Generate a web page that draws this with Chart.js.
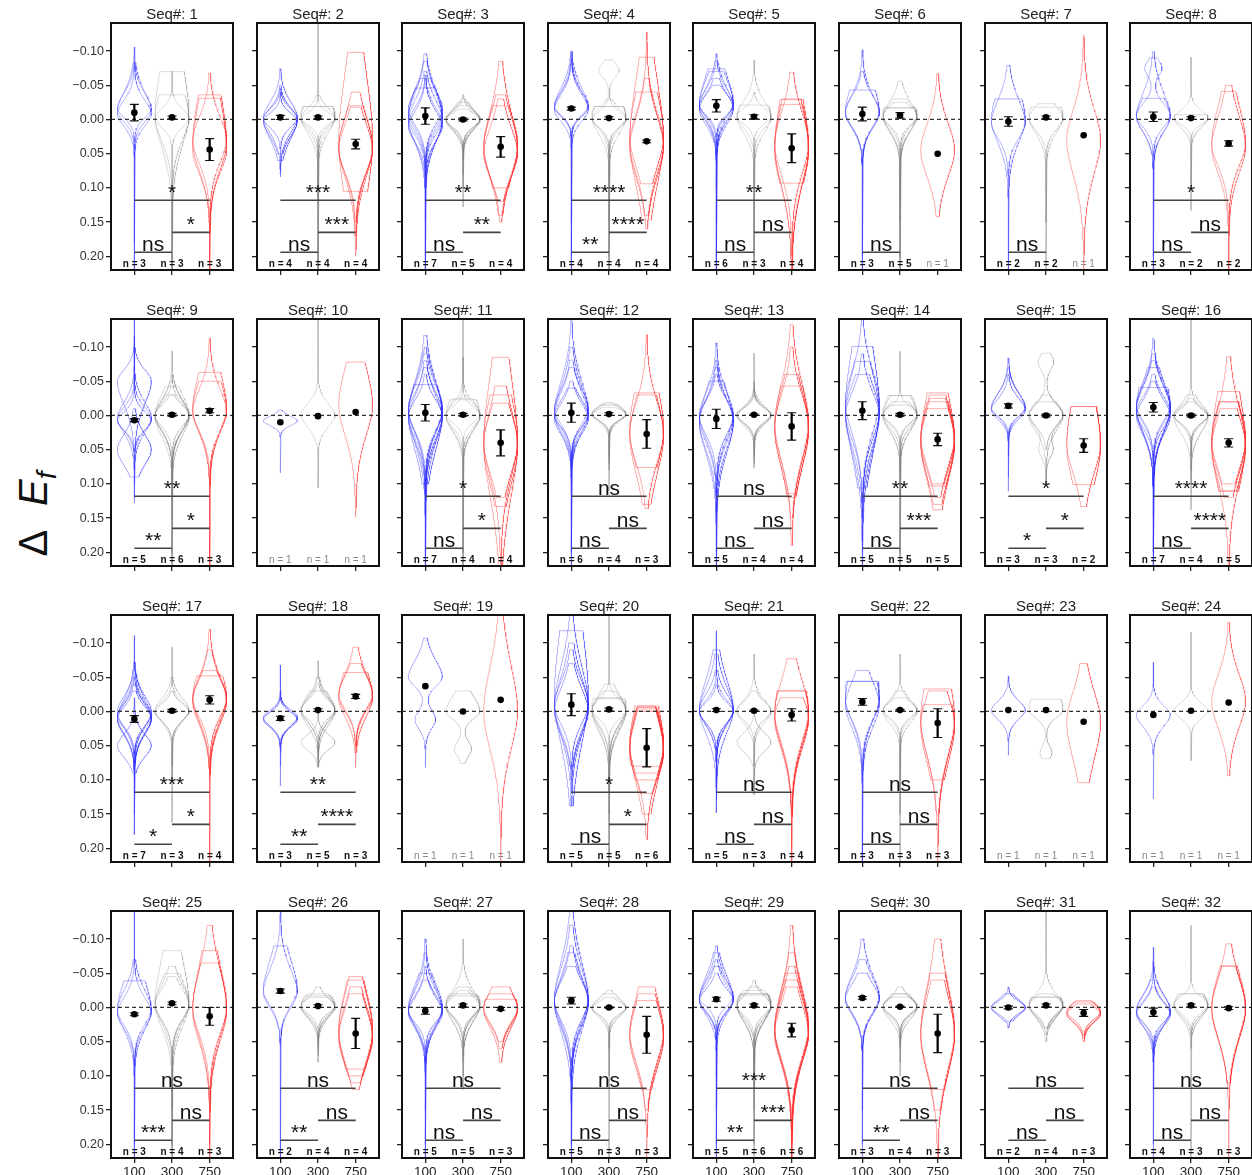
<!DOCTYPE html>
<html>
<head>
<meta charset="utf-8">
<script src="https://cdn.jsdelivr.net/npm/chart.js@4.4.1/dist/chart.umd.min.js"></script>
<style>
  body { margin: 0; background: #fff; }
  #grid { position: relative; width: 1252px; height: 1175px; overflow: hidden; }
  #grid canvas { position: absolute; }
  #yTitle {
    position: absolute; left: 37px; top: 514px;
    transform: translate(-50%, -50%) rotate(-90deg);
    font: 40px "Liberation Sans", Arial, sans-serif; color: #111; white-space: nowrap;
  }
  #yTitle .gap { display: inline-block; width: 24px; }
  #yTitle sub { font-size: 28px; }
</style>
</head>
<body>
<div id="grid"><div id="yTitle">Δ<span class="gap"></span><i>E</i><sub><i>f</i></sub></div></div>
<script>
// groups on the x axis and y tick values
const groupLabels = ['100', '300', '750'];
const yTicks = [-0.10, -0.05, 0.00, 0.05, 0.10, 0.15, 0.20];

// mean ± sem of each group, per sequence
const meanValues = [
  [-0.010, -0.003, 0.044], [-0.003, -0.003, 0.036], [-0.005, 0.000, 0.040], [-0.016, -0.002, 0.032],
  [-0.020, -0.004, 0.042], [-0.008, -0.006, 0.050], [0.003, -0.003, 0.023], [-0.004, -0.002, 0.035],
  [0.007, -0.001, -0.007], [0.010, 0.001, -0.005], [-0.004, -0.001, 0.040], [-0.004, -0.002, 0.027],
  [0.005, -0.001, 0.016], [-0.007, -0.001, 0.035], [-0.014, 0.000, 0.044], [-0.012, 0.000, 0.040],
  [0.011, -0.001, -0.017], [0.010, -0.002, -0.022], [-0.037, 0.000, -0.017], [-0.010, -0.003, 0.053],
  [-0.002, -0.001, 0.005], [-0.014, -0.002, 0.017], [-0.002, -0.002, 0.015], [0.005, -0.001, -0.013],
  [0.010, -0.006, 0.013], [-0.024, -0.002, 0.038], [0.005, -0.003, 0.002], [-0.010, 0.000, 0.040],
  [-0.012, -0.003, 0.033], [-0.014, -0.001, 0.038], [0.000, -0.003, 0.008], [0.007, -0.003, 0.001]
];
const semValues = [
  [0.012, 0.002, 0.016], [0.003, 0.002, 0.007], [0.012, 0.002, 0.015], [0.002, 0.002, 0.002],
  [0.009, 0.003, 0.021], [0.010, 0.004, 0], [0.007, 0.002, 0], [0.007, 0.002, 0.004],
  [0.002, 0.002, 0.003], [0, 0, 0], [0.012, 0.002, 0.019], [0.014, 0.002, 0.021],
  [0.014, 0.001, 0.020], [0.013, 0.002, 0.009], [0.003, 0.002, 0.010], [0.007, 0.002, 0.006],
  [0.005, 0.002, 0.006], [0.003, 0.002, 0.003], [0, 0, 0], [0.016, 0.002, 0.028],
  [0.002, 0.001, 0.009], [0.005, 0.001, 0.021], [0, 0, 0], [0, 0, 0],
  [0.002, 0.002, 0.013], [0.003, 0.002, 0.022], [0.005, 0.002, 0.002], [0.005, 0.001, 0.027],
  [0.003, 0.002, 0.010], [0.002, 0.001, 0.028], [0.002, 0.002, 0.005], [0.006, 0.002, 0.002]
];
const nValues = [
  [3, 3, 3], [4, 4, 4], [7, 5, 4], [4, 4, 4], [6, 3, 4], [3, 5, 1], [2, 2, 1], [3, 2, 2],
  [5, 6, 3], [1, 1, 1], [7, 4, 4], [6, 4, 3], [5, 4, 4], [5, 5, 5], [3, 3, 2], [7, 4, 5],
  [7, 3, 4], [3, 5, 3], [1, 1, 1], [5, 5, 6], [5, 3, 4], [3, 3, 3], [1, 1, 1], [1, 1, 1],
  [3, 4, 3], [2, 4, 4], [5, 5, 3], [5, 3, 3], [5, 6, 6], [3, 4, 3], [2, 4, 3], [4, 3, 3]
];
// significance: [100 vs 750, 300 vs 750, 100 vs 300]
const sigLabels = [
  ['*', '*', 'ns'], ['***', '***', 'ns'], ['**', '**', 'ns'], ['****', '****', '**'],
  ['**', 'ns', 'ns'], [null, null, 'ns'], [null, null, 'ns'], ['*', 'ns', 'ns'],
  ['**', '*', '**'], [null, null, null], ['*', '*', 'ns'], ['ns', 'ns', 'ns'],
  ['ns', 'ns', 'ns'], ['**', '***', 'ns'], ['*', '*', '*'], ['****', '****', 'ns'],
  ['***', '*', '*'], ['**', '****', '**'], [null, null, null], ['*', '*', 'ns'],
  ['ns', 'ns', 'ns'], ['ns', 'ns', 'ns'], [null, null, null], [null, null, null],
  ['ns', 'ns', '***'], ['ns', 'ns', '**'], ['ns', 'ns', 'ns'], ['ns', 'ns', 'ns'],
  ['***', '***', '**'], ['ns', 'ns', '**'], ['ns', 'ns', 'ns'], ['ns', 'ns', 'ns']
];

// replicate violins: [peak, spread up, spread down, lowest value, highest value]
// optionally followed by a second mode: [.., peak 2, spread 2, relative weight]
const violins100 = [
  [[-0.016, 0.02, 0.012, -0.106, 0.25], [-0.012, 0.025, 0.014, -0.083, 0.25], [-0.008, 0.018, 0.016, -0.082, 0.18]],
  [[-0.003, 0.02, 0.02, -0.074, 0.084], [0.0, 0.015, 0.025, -0.05, 0.06], [-0.002, 0.012, 0.012, -0.045, 0.08], [0.002, 0.01, 0.02, -0.04, 0.05]],
  [[-0.01, 0.03, 0.02, -0.096, 0.25], [-0.005, 0.03, 0.02, -0.085, 0.25], [0.0, 0.025, 0.02, -0.07, 0.2], [0.005, 0.02, 0.025, -0.065, 0.25], [-0.015, 0.025, 0.02, -0.06, 0.15], [0.01, 0.02, 0.02, -0.06, 0.12], [0.0, 0.04, 0.03, -0.046, 0.1]],
  [[-0.018, 0.025, 0.012, -0.100, 0.25], [-0.016, 0.022, 0.01, -0.098, 0.25], [-0.02, 0.018, 0.012, -0.09, 0.2], [-0.014, 0.02, 0.015, -0.08, 0.15]],
  [[-0.02, 0.04, 0.02, -0.074, 0.25], [-0.022, 0.02, 0.015, -0.096, 0.25], [-0.018, 0.025, 0.018, -0.085, 0.25], [-0.025, 0.03, 0.02, -0.07, 0.2], [-0.015, 0.02, 0.02, -0.06, 0.15], [-0.02, 0.015, 0.012, -0.05, 0.1]],
  [[-0.01, 0.04, 0.02, -0.043, 0.25], [-0.008, 0.025, 0.018, -0.102, 0.25], [-0.012, 0.02, 0.02, -0.07, 0.2]],
  [[0.0, 0.04, 0.03, -0.03, 0.25], [0.005, 0.03, 0.02, -0.079, 0.25]],
  [[-0.005, 0.03, 0.02, -0.099, 0.25], [-0.004, 0.025, 0.02, -0.031, 0.25], [-0.006, 0.015, 0.015, -0.09, 0.2, -0.075, 0.01, 0.5]],
  [[0.005, 0.015, 0.015, -0.14, 0.128], [0.003, 0.02, 0.02, -0.116, 0.12], [0.05, 0.02, 0.02, -0.01, 0.09], [-0.05, 0.015, 0.03, -0.1, 0.05], [0.008, 0.012, 0.012, -0.06, 0.1]],
  [[0.008, 0.006, 0.006, -0.008, 0.084]],
  [[-0.005, 0.04, 0.04, -0.117, 0.25], [0.0, 0.045, 0.045, -0.045, 0.1], [-0.01, 0.03, 0.03, -0.1, 0.25], [0.005, 0.03, 0.03, -0.08, 0.2], [-0.005, 0.025, 0.025, -0.07, 0.15], [0.0, 0.02, 0.03, -0.06, 0.12], [-0.008, 0.035, 0.03, -0.09, 0.25]],
  [[-0.005, 0.04, 0.02, -0.16, 0.25], [0.0, 0.03, 0.02, -0.081, 0.25], [-0.01, 0.025, 0.02, -0.07, 0.2], [0.005, 0.02, 0.02, -0.05, 0.15], [-0.003, 0.035, 0.025, -0.1, 0.2], [0.0, 0.02, 0.015, -0.04, 0.1]],
  [[0.0, 0.03, 0.03, -0.106, 0.25], [0.005, 0.025, 0.03, -0.081, 0.25], [0.01, 0.04, 0.04, -0.05, 0.2], [0.0, 0.02, 0.025, -0.06, 0.15], [0.01, 0.03, 0.035, -0.07, 0.25]],
  [[-0.01, 0.08, 0.06, -0.101, 0.106], [-0.005, 0.05, 0.05, -0.079, 0.25], [-0.02, 0.04, 0.04, -0.16, 0.25], [0.0, 0.03, 0.04, -0.09, 0.2], [-0.005, 0.035, 0.035, -0.06, 0.15]],
  [[-0.01, 0.02, 0.01, -0.084, 0.111], [-0.012, 0.018, 0.012, -0.07, 0.09], [-0.008, 0.015, 0.012, -0.06, 0.06]],
  [[-0.01, 0.05, 0.03, -0.041, 0.25], [-0.012, 0.03, 0.02, -0.113, 0.25], [-0.008, 0.03, 0.03, -0.09, 0.2], [-0.015, 0.025, 0.02, -0.08, 0.25], [-0.005, 0.02, 0.02, -0.06, 0.15], [-0.01, 0.035, 0.03, -0.07, 0.2], [0.0, 0.02, 0.025, -0.05, 0.12]],
  [[0.008, 0.02, 0.015, -0.111, 0.18], [0.01, 0.025, 0.02, -0.072, 0.18], [0.005, 0.015, 0.015, -0.05, 0.1], [0.012, 0.02, 0.02, -0.04, 0.15], [0.05, 0.015, 0.015, -0.02, 0.09], [0.0, 0.02, 0.02, -0.06, 0.12], [0.01, 0.015, 0.02, -0.03, 0.08]],
  [[0.01, 0.008, 0.01, -0.068, 0.109], [0.012, 0.01, 0.01, -0.03, 0.08], [0.008, 0.009, 0.012, -0.02, 0.06]],
  [[-0.05, 0.022, 0.012, -0.107, 0.082, 0.012, 0.012, 0.6]],
  [[-0.02, 0.1, 0.06, -0.118, 0.138], [-0.01, 0.05, 0.04, -0.16, 0.138], [-0.005, 0.04, 0.03, -0.1, 0.1], [0.0, 0.03, 0.03, -0.07, 0.08], [-0.01, 0.03, 0.025, -0.09, 0.12]],
  [[-0.002, 0.03, 0.02, -0.084, 0.148], [0.0, 0.015, 0.015, -0.118, 0.148], [-0.003, 0.02, 0.02, -0.06, 0.12], [0.0, 0.012, 0.015, -0.04, 0.1], [-0.002, 0.04, 0.03, -0.09, 0.13]],
  [[-0.02, 0.07, 0.03, -0.044, 0.25], [-0.015, 0.05, 0.025, -0.044, 0.25], [-0.01, 0.03, 0.03, -0.06, 0.25]],
  [[-0.002, 0.012, 0.012, -0.052, 0.064]],
  [[0.005, 0.012, 0.015, -0.072, 0.128]],
  [[0.005, 0.04, 0.025, -0.039, 0.25], [0.008, 0.02, 0.02, -0.16, 0.25], [0.003, 0.025, 0.02, -0.07, 0.2]],
  [[-0.025, 0.04, 0.02, -0.09, 0.25], [-0.022, 0.03, 0.02, -0.14, 0.25]],
  [[0.005, 0.03, 0.02, -0.1, 0.25], [0.003, 0.025, 0.02, -0.08, 0.25], [0.008, 0.02, 0.02, -0.06, 0.2], [0.0, 0.03, 0.025, -0.05, 0.15], [0.005, 0.02, 0.015, -0.04, 0.1]],
  [[-0.01, 0.05, 0.04, -0.16, 0.25], [-0.012, 0.04, 0.03, -0.12, 0.25], [-0.008, 0.03, 0.03, -0.09, 0.2], [-0.01, 0.025, 0.025, -0.06, 0.15], [-0.005, 0.035, 0.03, -0.08, 0.2]],
  [[-0.012, 0.025, 0.015, -0.09, 0.25], [-0.01, 0.02, 0.015, -0.07, 0.25], [-0.015, 0.02, 0.012, -0.06, 0.2], [-0.012, 0.03, 0.02, -0.08, 0.15], [-0.01, 0.015, 0.015, -0.05, 0.1]],
  [[-0.014, 0.03, 0.02, -0.1, 0.25], [-0.015, 0.025, 0.02, -0.07, 0.2], [-0.012, 0.02, 0.02, -0.05, 0.15]],
  [[0.0, 0.008, 0.008, -0.03, 0.03], [0.0, 0.01, 0.01, -0.02, 0.02]],
  [[0.005, 0.02, 0.015, -0.088, 0.25], [0.008, 0.015, 0.012, -0.066, 0.2], [0.004, 0.02, 0.02, -0.04, 0.12], [0.01, 0.015, 0.015, -0.03, 0.08]]
];
const violins300 = [
  [[-0.006, 0.07, 0.04, -0.07, 0.25], [-0.003, 0.04, 0.03, -0.036, 0.25], [-0.002, 0.012, 0.012, -0.07, 0.22]],
  [[-0.003, 0.03, 0.02, -0.019, 0.25], [-0.002, 0.03, 0.015, -0.019, 0.25], [-0.001, 0.008, 0.008, -0.16, 0.25], [-0.003, 0.012, 0.012, -0.035, 0.12]],
  [[0.0, 0.01, 0.012, -0.036, 0.128], [0.0, 0.012, 0.01, -0.03, 0.1], [0.002, 0.015, 0.012, -0.025, 0.08], [-0.002, 0.01, 0.015, -0.02, 0.06], [0.0, 0.008, 0.01, -0.015, 0.05]],
  [[-0.002, 0.03, 0.02, -0.019, 0.25], [-0.003, 0.025, 0.015, -0.019, 0.25], [0.0, 0.01, 0.01, -0.087, 0.2, -0.072, 0.009, 0.6], [-0.002, 0.012, 0.012, -0.03, 0.15]],
  [[-0.004, 0.02, 0.015, -0.087, 0.25], [-0.003, 0.03, 0.02, -0.021, 0.25], [-0.005, 0.01, 0.01, -0.04, 0.2]],
  [[-0.005, 0.03, 0.02, -0.017, 0.25], [-0.006, 0.025, 0.02, -0.017, 0.25], [-0.004, 0.02, 0.018, -0.056, 0.2], [-0.006, 0.015, 0.015, -0.03, 0.15], [-0.005, 0.012, 0.012, -0.025, 0.12]],
  [[-0.003, 0.03, 0.02, -0.018, 0.25], [-0.002, 0.015, 0.015, -0.023, 0.15]],
  [[-0.002, 0.01, 0.008, -0.091, 0.133], [-0.002, 0.02, 0.012, -0.007, 0.1]],
  [[0.0, 0.02, 0.02, -0.094, 0.25], [-0.002, 0.025, 0.02, -0.042, 0.25], [0.0, 0.015, 0.02, -0.06, 0.2], [0.002, 0.02, 0.025, -0.03, 0.15], [-0.001, 0.012, 0.015, -0.03, 0.12], [0.0, 0.02, 0.02, -0.05, 0.1]],
  [[0.0, 0.015, 0.015, -0.16, 0.106]],
  [[0.0, 0.03, 0.02, -0.023, 0.25], [-0.001, 0.01, 0.01, -0.16, 0.25], [0.0, 0.015, 0.015, -0.085, 0.2], [0.001, 0.02, 0.018, -0.025, 0.1]],
  [[-0.002, 0.008, 0.01, -0.019, 0.11], [-0.002, 0.01, 0.008, -0.015, 0.08], [-0.001, 0.007, 0.007, -0.012, 0.06], [-0.003, 0.009, 0.009, -0.017, 0.07]],
  [[0.0, 0.01, 0.01, -0.091, 0.077], [0.0, 0.012, 0.01, -0.05, 0.06], [-0.002, 0.008, 0.01, -0.04, 0.05], [0.0, 0.01, 0.012, -0.03, 0.07]],
  [[-0.001, 0.03, 0.02, -0.029, 0.25], [0.0, 0.025, 0.02, -0.029, 0.2], [-0.001, 0.01, 0.01, -0.094, 0.25], [0.0, 0.015, 0.015, -0.02, 0.12], [-0.002, 0.012, 0.012, -0.015, 0.08]],
  [[0.0, 0.014, 0.02, -0.091, 0.101, -0.078, 0.01, 0.45], [0.0, 0.015, 0.015, -0.03, 0.101, 0.05, 0.01, 0.4], [-0.002, 0.015, 0.015, -0.02, 0.05]],
  [[0.0, 0.012, 0.01, -0.16, 0.138], [0.0, 0.015, 0.012, -0.03, 0.1], [0.0, 0.01, 0.01, -0.025, 0.06], [0.002, 0.01, 0.02, -0.02, 0.08]],
  [[0.0, 0.012, 0.012, -0.094, 0.162], [-0.002, 0.015, 0.015, -0.05, 0.1], [0.0, 0.01, 0.012, -0.03, 0.08]],
  [[-0.002, 0.015, 0.015, -0.074, 0.082], [0.0, 0.018, 0.018, -0.05, 0.08], [-0.003, 0.012, 0.012, -0.04, 0.06], [0.045, 0.01, 0.01, 0.0, 0.08], [-0.002, 0.02, 0.015, -0.03, 0.07]],
  [[0.0, 0.02, 0.01, -0.03, 0.076, 0.055, 0.01, 0.5]],
  [[-0.003, 0.04, 0.025, -0.019, 0.25], [-0.003, 0.012, 0.012, -0.16, 0.25], [-0.002, 0.02, 0.02, -0.04, 0.15], [-0.004, 0.015, 0.02, -0.03, 0.12], [0.0, 0.02, 0.025, -0.02, 0.1]],
  [[0.0, 0.015, 0.015, -0.084, 0.121], [-0.001, 0.012, 0.012, -0.03, 0.08], [0.045, 0.012, 0.012, 0.0, 0.121]],
  [[-0.002, 0.012, 0.012, -0.084, 0.25], [0.0, 0.015, 0.015, -0.03, 0.15], [-0.002, 0.01, 0.01, -0.02, 0.1]],
  [[-0.002, 0.03, 0.01, -0.018, 0.069, 0.06, 0.008, 0.35]],
  [[-0.001, 0.01, 0.01, -0.116, 0.072]],
  [[-0.005, 0.06, 0.03, -0.083, 0.25], [-0.006, 0.03, 0.025, -0.05, 0.25], [-0.004, 0.02, 0.02, -0.045, 0.2], [-0.005, 0.025, 0.02, -0.06, 0.15]],
  [[-0.002, 0.02, 0.015, -0.017, 0.07], [-0.002, 0.015, 0.012, -0.02, 0.06], [0.0, 0.012, 0.012, -0.03, 0.08], [-0.003, 0.01, 0.01, -0.015, 0.05]],
  [[-0.003, 0.03, 0.02, -0.017, 0.1], [-0.002, 0.02, 0.02, -0.1, 0.12], [-0.003, 0.015, 0.015, -0.03, 0.08], [-0.004, 0.02, 0.015, -0.02, 0.07], [-0.002, 0.012, 0.012, -0.025, 0.06]],
  [[0.0, 0.01, 0.01, -0.025, 0.25], [0.0, 0.012, 0.012, -0.02, 0.1], [0.001, 0.008, 0.008, -0.015, 0.06]],
  [[-0.003, 0.03, 0.02, -0.018, 0.25], [-0.003, 0.02, 0.015, -0.025, 0.2], [-0.002, 0.015, 0.015, -0.03, 0.15], [-0.004, 0.02, 0.02, -0.02, 0.1], [-0.003, 0.012, 0.012, -0.04, 0.08], [-0.002, 0.025, 0.02, -0.02, 0.12]],
  [[-0.001, 0.012, 0.012, -0.03, 0.1], [0.0, 0.015, 0.015, -0.02, 0.08], [-0.002, 0.01, 0.01, -0.02, 0.06], [-0.001, 0.012, 0.01, -0.015, 0.05]],
  [[-0.003, 0.015, 0.015, -0.16, 0.05], [-0.003, 0.02, 0.015, -0.015, 0.03], [-0.002, 0.012, 0.012, -0.02, 0.04], [-0.004, 0.015, 0.012, -0.015, 0.03]],
  [[-0.003, 0.02, 0.015, -0.02, 0.04], [-0.004, 0.01, 0.01, -0.12, 0.25], [-0.003, 0.015, 0.012, -0.02, 0.06]]
];
const violins750 = [
  [[0.035, 0.07, 0.035, -0.036, 0.25], [0.045, 0.07, 0.03, -0.031, 0.25], [0.03, 0.03, 0.03, -0.068, 0.25]],
  [[0.03, 0.09, 0.08, -0.098, 0.105], [0.04, 0.04, 0.04, -0.04, 0.2], [0.045, 0.035, 0.03, -0.018, 0.15], [0.04, 0.04, 0.035, -0.02, 0.17]],
  [[0.045, 0.05, 0.035, -0.085, 0.15], [0.04, 0.04, 0.04, -0.036, 0.14], [0.05, 0.035, 0.03, -0.03, 0.12], [0.035, 0.04, 0.045, -0.02, 0.1]],
  [[0.03, 0.08, 0.06, -0.091, 0.147], [0.035, 0.04, 0.04, -0.128, 0.16], [0.025, 0.06, 0.04, -0.04, 0.094], [0.04, 0.04, 0.04, -0.06, 0.14]],
  [[0.04, 0.07, 0.05, -0.029, 0.25], [0.04, 0.06, 0.05, -0.022, 0.25], [0.045, 0.06, 0.05, -0.03, 0.093], [0.035, 0.04, 0.04, -0.069, 0.2]],
  [[0.045, 0.035, 0.035, -0.067, 0.142]],
  [[0.03, 0.04, 0.045, -0.123, 0.25]],
  [[0.035, 0.05, 0.03, -0.041, 0.25], [0.04, 0.04, 0.035, -0.05, 0.25]],
  [[-0.01, 0.05, 0.03, -0.063, 0.25], [-0.008, 0.04, 0.03, -0.05, 0.25], [-0.005, 0.03, 0.025, -0.113, 0.25]],
  [[-0.015, 0.05, 0.04, -0.078, 0.148]],
  [[0.04, 0.09, 0.07, -0.085, 0.25], [0.045, 0.05, 0.05, -0.043, 0.133], [0.04, 0.04, 0.04, -0.018, 0.12], [0.035, 0.06, 0.05, -0.03, 0.25]],
  [[0.025, 0.04, 0.04, -0.118, 0.136], [0.02, 0.06, 0.05, -0.033, 0.076], [0.03, 0.05, 0.05, -0.03, 0.13]],
  [[0.01, 0.05, 0.05, -0.133, 0.19], [0.02, 0.06, 0.05, -0.043, 0.114], [0.015, 0.04, 0.045, -0.1, 0.15], [0.02, 0.05, 0.05, -0.06, 0.12]],
  [[0.035, 0.06, 0.05, -0.033, 0.103], [0.04, 0.05, 0.05, -0.03, 0.138], [0.03, 0.04, 0.04, -0.01, 0.12], [0.035, 0.05, 0.04, -0.02, 0.1], [0.04, 0.045, 0.045, -0.025, 0.13]],
  [[0.045, 0.07, 0.05, -0.013, 0.101], [0.04, 0.06, 0.04, -0.013, 0.133]],
  [[0.04, 0.07, 0.06, -0.035, 0.111], [0.045, 0.05, 0.05, -0.086, 0.25], [0.035, 0.045, 0.04, -0.02, 0.1], [0.04, 0.05, 0.04, -0.02, 0.12], [0.045, 0.04, 0.045, -0.01, 0.11]],
  [[-0.02, 0.04, 0.03, -0.052, 0.25], [-0.018, 0.03, 0.03, -0.12, 0.25], [-0.015, 0.03, 0.03, -0.09, 0.084], [-0.02, 0.025, 0.025, -0.06, 0.1]],
  [[-0.022, 0.03, 0.02, -0.094, 0.082], [-0.02, 0.04, 0.025, -0.057, 0.06], [-0.025, 0.025, 0.02, -0.07, 0.05]],
  [[0.0, 0.06, 0.05, -0.16, 0.25]],
  [[0.05, 0.06, 0.04, -0.008, 0.187], [0.055, 0.05, 0.04, -0.005, 0.1], [0.045, 0.045, 0.045, -0.002, 0.09], [0.06, 0.05, 0.035, -0.008, 0.12], [0.05, 0.04, 0.05, 0.0, 0.15], [0.055, 0.05, 0.04, -0.006, 0.08]],
  [[0.005, 0.06, 0.04, -0.03, 0.25], [0.0, 0.04, 0.04, -0.077, 0.25], [0.005, 0.05, 0.04, -0.03, 0.2], [0.01, 0.03, 0.04, -0.02, 0.15]],
  [[0.01, 0.06, 0.05, -0.033, 0.25], [0.02, 0.04, 0.05, -0.03, 0.1], [0.015, 0.04, 0.045, -0.01, 0.15]],
  [[0.015, 0.04, 0.05, -0.07, 0.104]],
  [[-0.015, 0.035, 0.035, -0.13, 0.094]],
  [[0.0, 0.05, 0.04, -0.12, 0.25], [0.005, 0.06, 0.04, -0.083, 0.25], [0.0, 0.05, 0.035, -0.065, 0.2]],
  [[0.035, 0.05, 0.04, -0.045, 0.11], [0.04, 0.04, 0.04, -0.03, 0.1], [0.03, 0.05, 0.05, -0.04, 0.09], [0.045, 0.04, 0.035, -0.02, 0.12]],
  [[0.002, 0.03, 0.025, -0.012, 0.08], [0.003, 0.025, 0.02, -0.03, 0.06], [0.0, 0.02, 0.02, -0.02, 0.05]],
  [[0.04, 0.05, 0.04, -0.03, 0.25], [0.035, 0.04, 0.04, -0.02, 0.15], [0.045, 0.045, 0.04, -0.01, 0.12]],
  [[0.03, 0.05, 0.04, -0.12, 0.25], [0.035, 0.05, 0.04, -0.08, 0.25], [0.03, 0.04, 0.04, -0.06, 0.25], [0.035, 0.045, 0.04, -0.04, 0.2], [0.04, 0.04, 0.035, -0.03, 0.25], [0.03, 0.05, 0.045, -0.05, 0.25]],
  [[0.035, 0.06, 0.05, -0.1, 0.25], [0.04, 0.06, 0.05, -0.05, 0.12], [0.04, 0.05, 0.05, -0.04, 0.15]],
  [[0.008, 0.012, 0.012, -0.01, 0.05], [0.01, 0.01, 0.01, -0.005, 0.045], [0.006, 0.012, 0.01, -0.008, 0.04]],
  [[0.0, 0.04, 0.04, -0.093, 0.112], [0.0, 0.045, 0.04, -0.061, 0.25], [0.002, 0.04, 0.04, -0.06, 0.11]]
];
const violinSets = [violins100, violins300, violins750];

// layout
const FONT = '"Liberation Sans", Arial, sans-serif';
const COLS = 8;
const PANEL_LEFT = 111, PANEL_STEP_X = 145.6, PANEL_TOP = 23, PANEL_STEP_Y = 296;
const PLOT_W = 122, PLOT_H = 247;
const PAD_L = 60, PAD_T = 23, PAD_B = 24, PAD_R = 4;
const X_MIN = -0.62, X_MAX = 2.62, Y_MIN = -0.141, Y_MAX = 0.220;
const VIOLIN_HALF = 0.45, CAP_HALF = 0.12;
const SIG_Y = [0.118, 0.165, 0.194];
const SIG_PAIRS = [[0, 2], [1, 2], [0, 1]];
const groupColors = ['rgba(50,50,255,0.36)', 'rgba(130,130,130,0.28)', 'rgba(255,50,50,0.38)'];

// kernel-like width profile: gaussian core with a long thin tail
function profile(u) {
  const a = Math.abs(u);
  return 0.8 * Math.exp(-a * a / 3) + 0.2 / (1 + a * a);
}

// closed outline of one violin, right side down then left side up
function violinOutline(cat, rep) {
  const [c, sUp, sDown, lo, hi, c2, s2, w2] = rep;
  const steps = 120;
  const ys = [];
  for (let k = 0; k <= steps; k++) ys.push(lo + (hi - lo) * k / steps);
  if (c > lo && c < hi) ys.push(c);
  if (c2 !== undefined && c2 > lo && c2 < hi) ys.push(c2);
  ys.sort((a, b) => a - b);
  const w = ys.map(y => {
    let v = profile((y - c) / (y < c ? sUp : sDown));
    if (c2 !== undefined) v += w2 * profile((y - c2) / s2);
    return v;
  });
  const wMax = Math.max(...w);
  const right = ys.map((y, k) => ({ x: cat + VIOLIN_HALF * w[k] / wMax, y }));
  const left = ys.map((y, k) => ({ x: cat - VIOLIN_HALF * w[k] / wMax, y })).reverse();
  return [...right, ...left, right[0]];
}

function fmtY(v) {
  if (Math.abs(v) < 1e-9) return '0.00';
  return (v < 0 ? '\u2212' : '') + Math.abs(v).toFixed(2);
}

function decorPlugin(i) {
  return {
    id: 'decor' + i,
    afterDatasetsDraw(chart) {
      const { ctx, chartArea: a, scales: { x, y } } = chart;
      ctx.save();
      // frame
      ctx.strokeStyle = '#111';
      ctx.lineWidth = 2;
      ctx.strokeRect(a.left, a.top, a.right - a.left, a.bottom - a.top);
      // title
      ctx.fillStyle = '#222';
      ctx.font = '15px ' + FONT;
      ctx.textAlign = 'center';
      ctx.textBaseline = 'alphabetic';
      ctx.fillText('Seq#: ' + (i + 1), (a.left + a.right) / 2, a.top - 4);
      // significance labels
      ctx.font = '21px ' + FONT;
      ctx.fillStyle = '#111';
      sigLabels[i].forEach((lab, k) => {
        if (!lab) return;
        const [g0, g1] = SIG_PAIRS[k];
        ctx.fillText(lab, x.getPixelForValue((g0 + g1) / 2), y.getPixelForValue(SIG_Y[k]) - 1);
      });
      // replicate counts
      nValues[i].forEach((n, g) => {
        ctx.font = (n > 1 ? 'bold ' : '') + '10px ' + FONT;
        ctx.fillStyle = n > 1 ? '#111' : '#888';
        ctx.fillText('n = ' + n, x.getPixelForValue(g), a.bottom - 3);
      });
      ctx.restore();
    }
  };
}

const grid = document.getElementById('grid');

for (let i = 0; i < meanValues.length; i++) {
  const row = Math.floor(i / COLS), col = i % COLS;
  const canvas = document.createElement('canvas');
  canvas.width = PAD_L + PLOT_W + PAD_R;
  canvas.height = PAD_T + PLOT_H + PAD_B;
  canvas.style.left = Math.round(PANEL_LEFT + col * PANEL_STEP_X - PAD_L) + 'px';
  canvas.style.top = (PANEL_TOP + row * PANEL_STEP_Y - PAD_T) + 'px';
  grid.appendChild(canvas);

  const means = meanValues[i], sems = semValues[i];
  const meanPts = means.map((m, g) => ({ x: g, y: m }));
  const errPts = [], capPts = [];
  means.forEach((m, g) => {
    const e = sems[g];
    if (!(e > 0)) return;
    errPts.push({ x: g, y: m - e }, { x: g, y: m + e }, { x: g, y: null });
    capPts.push({ x: g - CAP_HALF, y: m - e }, { x: g + CAP_HALF, y: m - e }, { x: g, y: null },
                { x: g - CAP_HALF, y: m + e }, { x: g + CAP_HALF, y: m + e }, { x: g, y: null });
  });
  const sigPts = [];
  sigLabels[i].forEach((lab, k) => {
    if (!lab) return;
    const [g0, g1] = SIG_PAIRS[k];
    sigPts.push({ x: g0, y: SIG_Y[k] }, { x: g1, y: SIG_Y[k] }, { x: g1, y: null });
  });

  const datasets = [
    { data: meanPts, pointRadius: 3.3, pointBackgroundColor: '#000', pointBorderWidth: 0, showLine: false },
    { data: errPts, showLine: true, borderColor: '#000', borderWidth: 2.2, pointRadius: 0 },
    { data: capPts, showLine: true, borderColor: '#111', borderWidth: 1.1, pointRadius: 0 },
    { data: sigPts, showLine: true, borderColor: '#444', borderWidth: 1.6, pointRadius: 0 },
    { data: [{ x: X_MIN, y: 0 }, { x: X_MAX, y: 0 }], showLine: true, borderColor: '#333',
      borderWidth: 1.2, borderDash: [4, 3], pointRadius: 0 }
  ];
  violinSets.forEach((set, g) => {
    set[i].forEach(rep => {
      datasets.push({ data: violinOutline(g, rep), showLine: true, borderColor: groupColors[g],
                      borderWidth: 1, pointRadius: 0, tension: 0 });
    });
  });

  new Chart(canvas.getContext('2d'), {
    type: 'scatter',
    data: { datasets },
    options: {
      responsive: false,
      animation: false,
      devicePixelRatio: 1,
      events: [],
      layout: { padding: { top: PAD_T, left: 0, right: PAD_R, bottom: 0 } },
      plugins: { legend: { display: false }, tooltip: { enabled: false } },
      scales: {
        x: {
          type: 'linear', min: X_MIN, max: X_MAX,
          afterBuildTicks: ax => { ax.ticks = [0, 1, 2].map(v => ({ value: v })); },
          afterFit: ax => { ax.height = PAD_B; },
          border: { display: false },
          grid: { drawOnChartArea: false, drawTicks: true, tickLength: 5, color: '#222', lineWidth: 1.3 },
          ticks: { display: row === 3, callback: v => groupLabels[v], font: { size: 13.5, family: FONT },
                   color: '#222', padding: 1, maxRotation: 0, autoSkip: false }
        },
        y: {
          type: 'linear', reverse: true, min: Y_MIN, max: Y_MAX,
          afterBuildTicks: ax => { ax.ticks = yTicks.map(v => ({ value: v })); },
          afterFit: ax => { ax.width = PAD_L; },
          border: { display: false },
          grid: { drawOnChartArea: false, drawTicks: true, tickLength: 5, color: '#222', lineWidth: 1.3 },
          ticks: { display: col === 0, callback: fmtY, font: { size: 12.5, family: FONT },
                   color: '#333', padding: 2 }
        }
      }
    },
    plugins: [decorPlugin(i)]
  });
}
</script>
</body>
</html>
